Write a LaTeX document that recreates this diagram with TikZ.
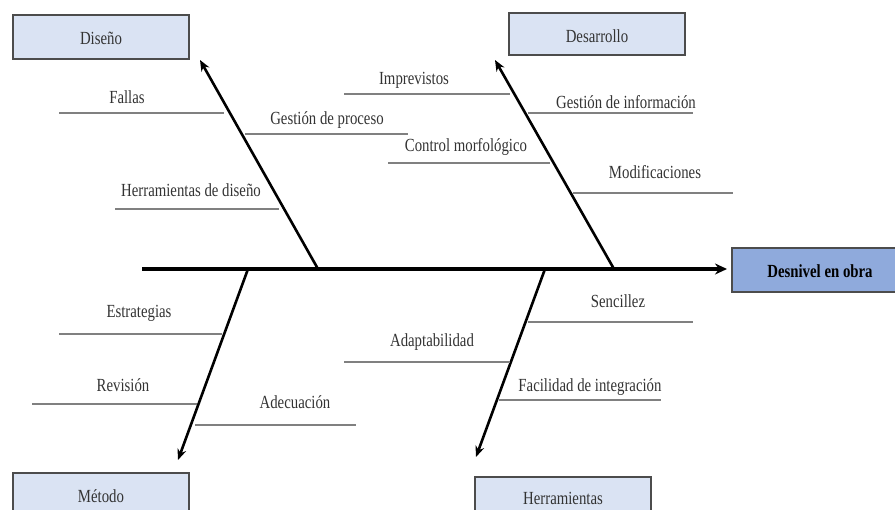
\documentclass[tikz,border=0pt]{standalone}
\usepackage{fontspec}
\setmainfont{Liberation Serif}[FakeStretch=0.8]
\usetikzlibrary{arrows.meta}
\definecolor{boxblue}{HTML}{DAE3F3}
\definecolor{headblue}{HTML}{8FAADC}
\begin{document}
\begin{tikzpicture}[x=1pt,y=-1pt,
  lbl/.style={font=\fontsize{18.5}{21}\selectfont, inner sep=0pt, anchor=base, text=black!80},
  catbox/.style={draw=black!70, line width=1.3pt, fill=boxblue, minimum width=176pt, minimum height=44pt, inner sep=0pt},
  bone/.style={line width=2.6pt, -{Stealth[length=11pt,width=9pt]}},
  spine/.style={line width=3.2pt, -{Stealth[length=12pt,width=11pt]}},
  twig/.style={draw=black!50, line width=1.1pt}]
\useasboundingbox (0,0) rectangle (895,510);

% boxes
\node[catbox] (dis) at (101,37) {};
\node[lbl] at (101,45) {Diseño};
\node[catbox, minimum height=42pt] (des) at (597,34) {};
\node[lbl] at (597,43) {Desarrollo};
\node[catbox, fill=headblue] (eff) at (820,270) {};
\node[lbl, font=\fontsize{18.5}{21}\selectfont\bfseries, text=black] at (820,278) {Desnivel en obra};
\node[catbox, minimum height=50pt] (met) at (101,498) {};
\node[lbl] at (101,503) {Método};
\node[catbox] (her) at (563,499) {};
\node[lbl] at (563,505) {Herramientas};

% spine and bones
\coordinate (s0) at (142,269);
\coordinate (s1) at (727,269);
\coordinate (jdis) at (318,269);
\coordinate (jdes) at (614,269);
\coordinate (jmet) at (248,269);
\coordinate (jher) at (545,269);
\coordinate (tdis) at (200,60);
\coordinate (tdes) at (495,60);
\coordinate (tmet) at (178,460);
\coordinate (ther) at (476,457);
\draw[spine] (s0) -- (s1);
\draw[bone] (jdis) -- (tdis);
\draw[bone] (jdes) -- (tdes);
\draw[bone] (jmet) -- (tmet);
\draw[bone] (jher) -- (ther);

% Diseño twigs
\draw[twig] (59,113) -- (224,113);
\node[lbl] at (127,104) {Fallas};
\draw[twig] (245,134) -- (408,134);
\node[lbl] at (327,125) {Gestión de proceso};
\draw[twig] (115,209) -- (279,209);
\node[lbl] at (191,197) {Herramientas de diseño};

% Desarrollo twigs
\draw[twig] (344,94) -- (510,94);
\node[lbl] at (414,85) {Imprevistos};
\draw[twig] (388,163) -- (550,163);
\node[lbl] at (466,152) {Control morfológico};
\draw[twig] (528,113) -- (693,113);
\node[lbl] at (626,109) {Gestión de información};
\draw[twig] (573,193) -- (733,193);
\node[lbl] at (655,179) {Modificaciones};

% Método twigs
\draw[twig] (59,334) -- (222,334);
\node[lbl] at (139,318) {Estrategias};
\draw[twig] (32,404) -- (197,404);
\node[lbl] at (123,392) {Revisión};
\draw[twig] (195,425) -- (356,425);
\node[lbl] at (295,409) {Adecuación};

% Herramientas twigs
\draw[twig] (344,362) -- (510,362);
\node[lbl] at (432,347) {Adaptabilidad};
\draw[twig] (528,322) -- (693,322);
\node[lbl] at (618,308) {Sencillez};
\draw[twig] (499,400) -- (661,400);
\node[lbl] at (590,392) {Facilidad de integración};
\end{tikzpicture}
\end{document}
